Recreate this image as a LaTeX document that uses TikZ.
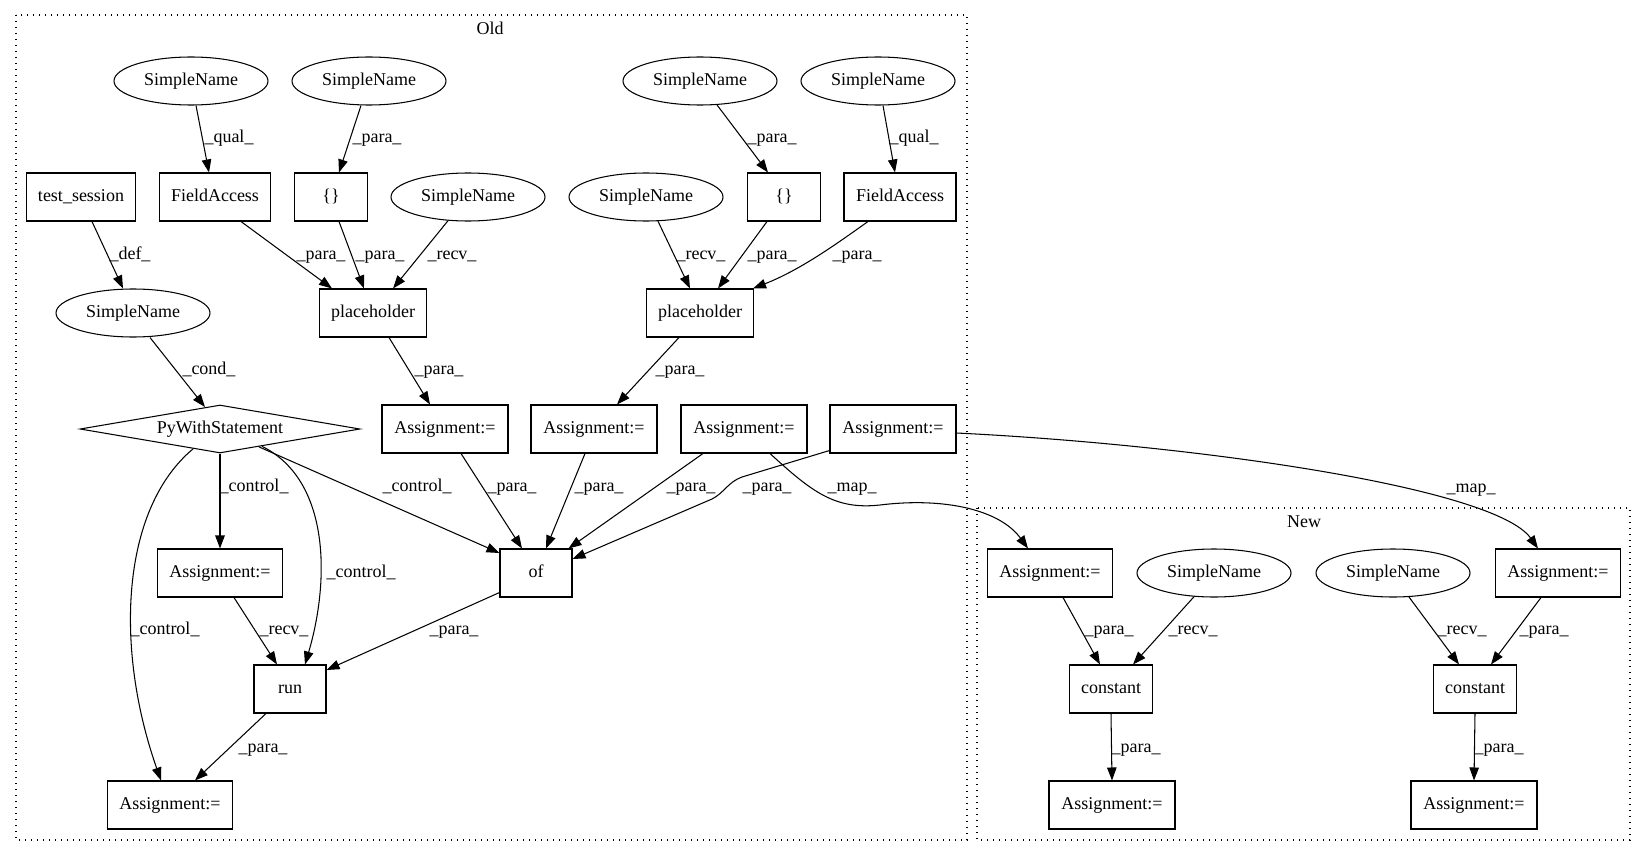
\documentclass[tikz,border=0pt]{standalone}
\usepackage{fontspec}
\setmainfont{Liberation Serif}
\usetikzlibrary{shapes.geometric,arrows.meta,calc}
\begin{document}
\begin{tikzpicture}[x=1pt,y=-1pt,
  font=\fontsize{18}{21}\selectfont,
  every node/.style={inner sep=0pt, text height=12.5pt, text depth=3.5pt},
  box/.style={draw, line width=1.05pt, rectangle, minimum height=48pt},
  ell/.style={draw, line width=1.05pt, ellipse, minimum width=154pt, minimum height=48pt},
  edge/.style={draw, line width=1.05pt, -{Triangle[length=13pt,width=9.5pt]}},
  lbl/.style={},
  cluster/.style={draw, line width=1.2pt, dash pattern=on 1.4pt off 4.6pt}]
\useasboundingbox (0,0) rectangle (1647,856);

% clusters
\draw[cluster] (16,15) rectangle (967,840);
\draw[cluster] (977,508) rectangle (1630,840);
\node (oldlbl) at (490,30) {Old};
\node (newlbl) at (1304,523) {New};

% Old nodes
\node[ell] (snA) at (191,81) {SimpleName};
\node[ell] (snB) at (369,81) {SimpleName};
\node[ell] (snC) at (700,81) {SimpleName};
\node[ell] (snD) at (878,81) {SimpleName};
\node[box,minimum width=109pt] (ts) at (81,197) {test\_session};
\node[box,minimum width=111pt] (faL) at (215,197) {FieldAccess};
\node[box,minimum width=73pt] (brL) at (331,197) {\{\}};
\node[ell] (snRL) at (468,197) {SimpleName};
\node[ell] (snRR) at (646,197) {SimpleName};
\node[box,minimum width=73pt] (brR) at (784,197) {\{\}};
\node[box,minimum width=112pt] (faR) at (900,197) {FieldAccess};
\node[ell] (snDef) at (133,313) {SimpleName};
\node[box,minimum width=107pt] (phL) at (373,313) {placeholder};
\node[box,minimum width=107pt] (phR) at (700,313) {placeholder};
\node[diamond, draw, line width=1.05pt, minimum width=280pt, minimum height=48pt, aspect=5.8] (pws) at (220,429) {PyWithStatement};
\node[box,minimum width=126pt] (a1) at (445,429) {Assignment:=};
\node[box,minimum width=126pt] (a2) at (594,429) {Assignment:=};
\node[box,minimum width=126pt] (a3) at (744,429) {Assignment:=};
\node[box,minimum width=126pt] (a4) at (893,429) {Assignment:=};
\node[box,minimum width=125pt] (actl) at (220,573) {Assignment:=};
\node[box,minimum width=72pt] (of) at (536,573) {of};
\node[box,minimum width=72pt] (run) at (290,689) {run};
\node[box,minimum width=125pt] (abot) at (170,805) {Assignment:=};

% New nodes
\node[box,minimum width=125pt] (nA1) at (1050,573) {Assignment:=};
\node[ell] (nS1) at (1214,573) {SimpleName};
\node[ell] (nS2) at (1393,573) {SimpleName};
\node[box,minimum width=125pt] (nA2) at (1558,573) {Assignment:=};
\node[box,minimum width=83pt] (nC1) at (1111,689) {constant};
\node[box,minimum width=83pt] (nC2) at (1475,689) {constant};
\node[box,minimum width=126pt] (nB1) at (1112,805) {Assignment:=};
\node[box,minimum width=126pt] (nB2) at (1474,805) {Assignment:=};

% Old edges
\draw[edge] ([shift={(5,0)}]snA.south) -- ([shift={(-6,0)}]faL.north);
\node[lbl] (l1) at (229,138) {\_qual\_};
\draw[edge] ([shift={(-8,0)}]snB.south) -- ([shift={(8,0)}]brL.north);
\node[lbl] (l2) at (377,138) {\_para\_};
\draw[edge] ([shift={(11,0)}]ts.south) -- ([shift={(-10,0)}]snDef.north);
\node[lbl] (l3) at (130,255) {\_def\_};
\draw[edge] ([shift={(26,0)}]faL.south) -- ([shift={(-41,0)}]phL.north);
\node[lbl] (l4) at (321,255) {\_para\_};
\draw[edge] ([shift={(8,0)}]brL.south) -- ([shift={(-9,0)}]phL.north);
\node[lbl] (l5) at (380,255) {\_para\_};
\draw[edge] ([shift={(-20,-0.8)}]snRL.south) -- ([shift={(20,0)}]phL.north);
\node[lbl] (l6) at (452,255) {\_recv\_};
\draw[edge] ([shift={(17,0)}]snDef.south) -- ([shift={(-15,2.6)}]pws.north);
\node[lbl] (l7) at (209,370) {\_cond\_};
\draw[edge] ([shift={(16,0)}]phL.south) -- ([shift={(-15,0)}]a1.north);
\node[lbl] (l8) at (439,370) {\_para\_};

\draw[edge] ([shift={(17,-0.6)}]snC.south) -- ([shift={(-16,0)}]brR.north);
\node[lbl] (l9) at (772,138) {\_para\_};
\draw[edge] ([shift={(5,0)}]snD.south) -- ([shift={(-5,0)}]faR.north);
\node[lbl] (l10) at (914,138) {\_qual\_};
\draw[edge] ([shift={(12,-0.3)}]snRR.south) -- ([shift={(-10,0)}]phR.north);
\node[lbl] (l11) at (701,255) {\_recv\_};
\draw[edge] ([shift={(-17,0)}]brR.south) -- ([shift={(18,0)}]phR.north);
\node[lbl] (l12) at (772,255) {\_para\_};
\draw[edge] ([shift={(-32,0)}]faR.south) .. controls (835,245) and (800,270) .. ([shift={(-1,0)}]phR.north east);
\node[lbl] (l13) at (857,255) {\_para\_};
\draw[edge] ([shift={(-21,0)}]phR.south) -- ([shift={(23,0)}]a2.north);
\node[lbl] (l14) at (680,370) {\_para\_};

\draw[edge] ([shift={(16,0)}]a1.south) -- ([shift={(-14,0)}]of.north);
\node[lbl] (l15) at (512,487) {\_para\_};
\draw[edge] ([shift={(-9,0)}]a2.south) -- ([shift={(10,0)}]of.north);
\node[lbl] (l16) at (599,487) {\_para\_};
\draw[edge] ([shift={(-41,0)}]a3.south) -- ([shift={(-4,0)}]of.north east);
\node[lbl] (l17) at (691,487) {\_para\_};
\draw[edge] ([shift={(0,-3)}]a4.south west) -- (742,477) .. controls (728,482) and (724,493) .. (712,499) -- ([shift={(0,-14)}]of.east);
\node[lbl] (l18) at (767,487) {\_para\_};

\draw[edge] ([shift={(26,0)}]a3.south) .. controls (812,492) and (835,510) .. (880,505) .. controls (945,497) and (1000,510) .. ([shift={(-22,0)}]nA1.north);
\node[lbl] (l19) at (852,487) {\_map\_};
\draw[edge] ([shift={(0,4)}]a4.east) .. controls (1200,445) and (1495,488) .. ([shift={(-20,0)}]nA2.north);
\node[lbl] (l20) at (1471,488) {\_map\_};

\draw[edge] (pws.south) -- (actl.north);
\node[lbl] (l21) at (254,487) {\_control\_};
\draw[edge] ([shift={(39,-6.6)}]pws.south) -- ([shift={(0,-20)}]of.west);
\node[lbl] (l22) at (417,487) {\_control\_};
\draw[edge] ([shift={(42,-7.2)}]pws.south) .. controls (330,480) and (330,580) .. ([shift={(15,0)}]run.north);
\node[lbl] (l23) at (361,573) {\_control\_};
\draw[edge] ([shift={(-27,-4.6)}]pws.south) .. controls (120,510) and (115,650) .. ([shift={(-9,0)}]abot.north);
\node[lbl] (l24) at (165,630) {\_control\_};
\draw[edge] ([shift={(14,0)}]actl.south) -- ([shift={(-13,0)}]run.north);
\node[lbl] (l25) at (284,630) {\_recv\_};
\draw[edge] ([shift={(0,-5)}]of.south west) -- ([shift={(0,-19)}]run.east);
\node[lbl] (l26) at (454,630) {\_para\_};
\draw[edge] ([shift={(-24,0)}]run.south) -- ([shift={(25,0)}]abot.north);
\node[lbl] (l27) at (263,748) {\_para\_};

% New edges
\draw[edge] ([shift={(13,0)}]nA1.south) -- ([shift={(-11,0)}]nC1.north);
\node[lbl] (l28) at (1109,630) {\_para\_};
\draw[edge] ([shift={(-20,-0.8)}]nS1.south) -- ([shift={(22,0)}]nC1.north);
\node[lbl] (l29) at (1193,630) {\_recv\_};
\draw[edge] (nC1.south) -- (nB1.north);
\node[lbl] (l30) at (1136,748) {\_para\_};
\draw[edge] ([shift={(16,-0.5)}]nS2.south) -- ([shift={(-16,0)}]nC2.north);
\node[lbl] (l31) at (1462,630) {\_recv\_};
\draw[edge] ([shift={(-17,0)}]nA2.south) -- ([shift={(16,0)}]nC2.north);
\node[lbl] (l32) at (1544,630) {\_para\_};
\draw[edge] (nC2.south) -- (nB2.north);
\node[lbl] (l33) at (1499,748) {\_para\_};
\end{tikzpicture}
\end{document}
